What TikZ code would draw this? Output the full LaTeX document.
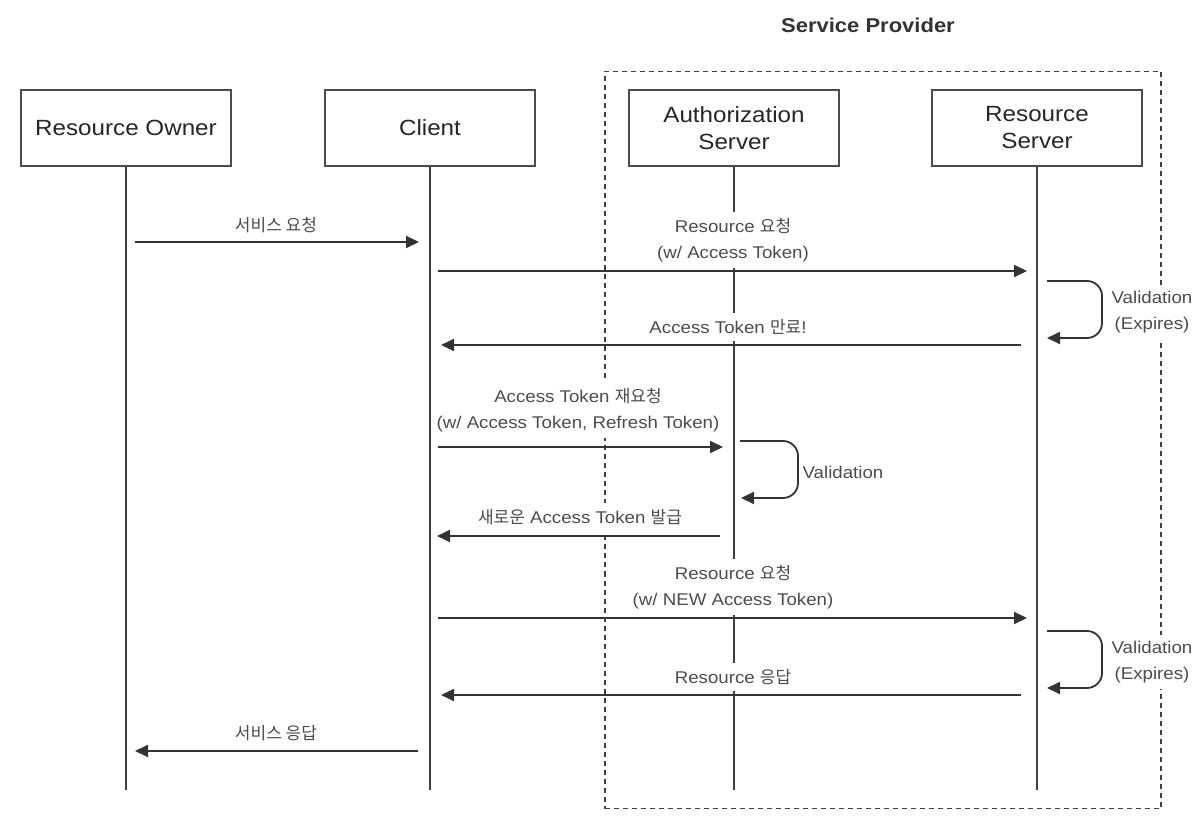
\documentclass[tikz,border=0pt]{standalone}
\usepackage{fontspec}
\setmainfont{Liberation Sans}[FakeStretch=1.1]
\newfontfamily\krfont{Noto Sans CJK KR}
\newcommand\kr[1]{{\krfont #1}}
\usetikzlibrary{arrows.meta}
\begin{document}
\begin{tikzpicture}[x=1pt,y=-1pt,
  actor/.style={draw=black!70, line width=1.5pt, minimum width=210pt, minimum height=76pt,
    font=\fontsize{22}{27}\selectfont, align=center, text=black!85, inner sep=0pt},
  lifeline/.style={draw=black!75, line width=1.6pt},
  msg/.style={draw=black!80, line width=1.8pt, -{Triangle[length=13pt,width=12pt]}},
  selfloop/.style={msg, rounded corners=15pt},
  lbl/.style={fill=white, font=\fontsize{17}{26}\selectfont, text=black!70, align=center,
    inner xsep=2pt, inner ysep=6pt},
  group/.style={draw=black!75, line width=1.4pt, dash pattern=on 5pt off 4pt}
]
\useasboundingbox (0,0) rectangle (1202,834);
\fill[white] (0,0) rectangle (1202,834);

% group
\node[group, minimum width=556pt, minimum height=737pt, inner sep=0pt] (sp) at (883,440) {};
\node[font=\bfseries\fontsize{20}{24}\selectfont, text=black!80] (sptitle) at (868,25) {Service Provider};

% actors
\node[actor] (ro) at (126,128) {Resource Owner};
\node[actor] (cl) at (430,128) {Client};
\node[actor] (as) at (734,128) {Authorization\\Server};
\node[actor] (rs) at (1037,128) {Resource\\Server};

% lifeline ends
\coordinate (roE) at (126,790);
\coordinate (clE) at (430,790);
\coordinate (asE) at (734,790);
\coordinate (rsE) at (1037,790);
\draw[lifeline] (ro.south) -- (roE);
\draw[lifeline] (cl.south) -- (clE);
\draw[lifeline] (as.south) -- (asE);
\draw[lifeline] (rs.south) -- (rsE);

% message endpoints
\coordinate (m1a) at (135,242);  \coordinate (m1b) at (419,242);
\coordinate (m2a) at (438,271);  \coordinate (m2b) at (1027,271);
\coordinate (v1a) at (1047,281); \coordinate (v1b) at (1047,338);
\coordinate (m4a) at (1021,345); \coordinate (m4b) at (441,345);
\coordinate (m5a) at (438,447);  \coordinate (m5b) at (723,447);
\coordinate (v2a) at (740,441);  \coordinate (v2b) at (741,498);
\coordinate (m7a) at (720,536);  \coordinate (m7b) at (437,536);
\coordinate (m8a) at (438,618);  \coordinate (m8b) at (1027,618);
\coordinate (v3a) at (1047,631); \coordinate (v3b) at (1047,688);
\coordinate (m10a) at (1021,695); \coordinate (m10b) at (441,695);
\coordinate (m11a) at (418,751); \coordinate (m11b) at (135,751);

% messages
\draw[msg] (m1a) -- (m1b);
\draw[msg] (m2a) -- (m2b);
\draw[selfloop] (v1a) -- ++(55,0) -- ++(0,57) -- (v1b);
\draw[msg] (m4a) -- (m4b);
\draw[msg] (m5a) -- (m5b);
\draw[selfloop] (v2a) -- ++(58,0) -- ++(0,57) -- (v2b);
\draw[msg] (m7a) -- (m7b);
\draw[msg] (m8a) -- (m8b);
\draw[selfloop] (v3a) -- ++(55,0) -- ++(0,57) -- (v3b);
\draw[msg] (m10a) -- (m10b);
\draw[msg] (m11a) -- (m11b);

% labels
\node[lbl] (l1) at (276,225) {\kr{서비스 요청}};
\node[lbl] (l2) at (733,240) {Resource \kr{요청}\\(w/ Access Token)};
\node[lbl] (l3) at (1152,312) {Validation\\(Expires)};
\node[lbl] (l4) at (728,327) {Access Token \kr{만료}!};
\node[lbl] (l5) at (578,410) {Access Token \kr{재요청}\\(w/ Access Token, Refresh Token)};
\node[lbl] (l6) at (843,472) {Validation};
\node[lbl] (l7) at (580,517) {\kr{새로운} Access Token \kr{발급}};
\node[lbl] (l8) at (733,587) {Resource \kr{요청}\\(w/ NEW Access Token)};
\node[lbl] (l9) at (1152,662) {Validation\\(Expires)};
\node[lbl] (l10) at (733,677) {Resource \kr{응답}};
\node[lbl] (l11) at (276,733) {\kr{서비스 응답}};
\end{tikzpicture}
\end{document}
